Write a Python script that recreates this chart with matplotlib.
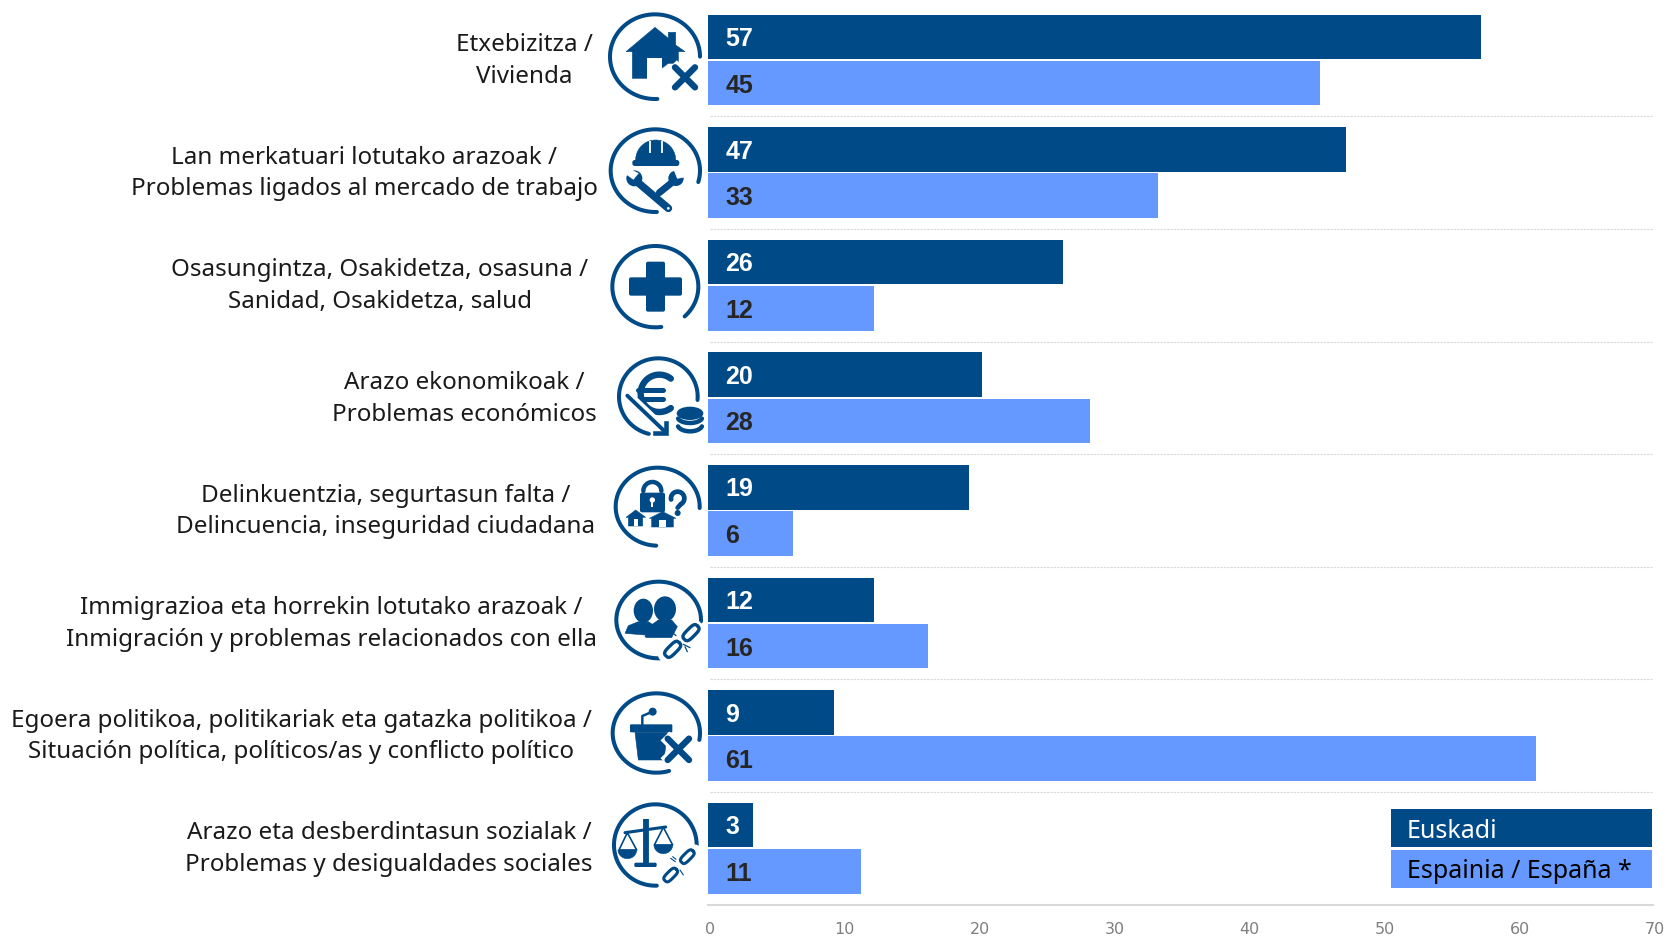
import numpy as np
import matplotlib
matplotlib.use("Agg")
import matplotlib.pyplot as plt
from matplotlib.patches import Polygon, Circle, Ellipse, Rectangle, FancyBboxPatch
from matplotlib.transforms import ScaledTranslation

categories = [
    "Etxebizitza /\nVivienda",
    "Lan merkatuari lotutako arazoak /\nProblemas ligados al mercado de trabajo",
    "Osasungintza, Osakidetza, osasuna /\nSanidad, Osakidetza, salud",
    "Arazo ekonomikoak /\nProblemas económicos",
    "Delinkuentzia, segurtasun falta /\nDelincuencia, inseguridad ciudadana",
    "Immigrazioa eta horrekin lotutako arazoak /\nInmigración y problemas relacionados con ella",
    "Egoera politikoa, politikariak eta gatazka politikoa /\nSituación política, políticos/as y conflicto político",
    "Arazo eta desberdintasun sozialak /\nProblemas y desigualdades sociales",
]
euskadi = [57.25, 47.25, 26.3, 20.3, 19.3, 12.3, 9.3, 3.3]
espania = [45.3, 33.3, 12.3, 28.3, 6.3, 16.3, 61.3, 11.3]
series_names = ["Euskadi", "Espainia / España *"]
x_ticks = [0, 10, 20, 30, 40, 50, 60, 70]

DARK, LIGHT = "#004B87", "#6699FF"
W, H = 1668, 936
label_cx = [524, 364, 380, 464, 386, 331.5, 301.5, 389]

fig = plt.figure(figsize=(W / 100, H / 100), dpi=100, facecolor="white")
ax = fig.add_axes([708 / W, 1 - 904.5 / H, 945 / W, 900.8 / H])
y = np.arange(len(categories)) + 0.5
ax.barh(y - 0.205, euskadi, 0.395, color=DARK)
ax.barh(y + 0.205, espania, 0.395, color=LIGHT)
ax.set_xlim(0, 70)
ax.set_ylim(len(categories), 0)
ax.set_xticks(x_ticks)
ax.set_yticks([])
ax.tick_params(axis="x", length=0, pad=12.5, labelsize=11.5, labelcolor="#7F7F7F")
shift = ScaledTranslation(1.3 / 72, 0, fig.dpi_scale_trans)
for lab in ax.get_xticklabels():
    lab.set_transform(lab.get_transform() + shift)
for s in ["top", "left", "right"]:
    ax.spines[s].set_visible(False)
ax.spines["bottom"].set_color("#D9D9D9")
ax.spines["bottom"].set_linewidth(1.5)
for b in range(1, len(categories)):
    ax.plot([0.15, 70], [b, b], color="#D9D9D9", lw=0.8, ls=(0, (2, 1)), zorder=0)
for i in range(len(categories)):
    ax.text(1.3, y[i] - 0.208, f"{round(euskadi[i])}", color="white", fontsize=18, weight="bold",
            family="Liberation Sans", va="center_baseline", ha="left")
    ax.text(1.3, y[i] + 0.205, f"{round(espania[i])}", color="#262626", fontsize=18, weight="bold",
            family="Liberation Sans", va="center_baseline", ha="left")

# overlay in pixel coordinates: category text, icons and the legend
ov = fig.add_axes([0, 0, 1, 1], facecolor="none")
ov.set_xlim(0, W)
ov.set_ylim(H, 0)
ov.axis("off")

for i, t in enumerate(categories):
    ov.text(label_cx[i], 61 + 112.6 * i, t, ha="center", va="center", ma="center",
            fontsize=17.45, family="Noto Sans", color="#1A1A1A", linespacing=1.42)

# legend
ly = [(809, 847), (850, 888)]
for (a, b), c, tc, name in zip(ly, [DARK, LIGHT], ["white", "black"], series_names):
    ov.add_patch(Rectangle((1391, a), 261, b - a, color=c, lw=0))
    ov.text(1407, (a + b) / 2 + 3, name, color=tc, fontsize=18, family="Noto Sans", va="center", ha="left")


class Z:
    """Drawing helper for decorative icons; coordinates are zoom-crop pixels."""
    def __init__(self, ox, oy):
        self.ox, self.oy = ox, oy
    def p(self, x, y):
        return (self.ox + x / 3, self.oy + y / 3)
    def line(self, pts, lw=2.2, c=DARK, cap="round", z=5):
        q = np.array([self.p(*a) for a in pts])
        ov.plot(q[:, 0], q[:, 1], color=c, lw=lw, solid_capstyle=cap, solid_joinstyle="round", zorder=z)
    def arc(self, cx, cy, r, a0, a1, lw=2.9, c=DARK, z=5, ry=None):
        ry = r if ry is None else ry
        t = np.radians(np.linspace(a0, a1, 90))
        self.line(list(zip(cx + r * np.cos(t), cy - ry * np.sin(t))), lw=lw, c=c, z=z)
    def poly(self, pts, c=DARK, z=5):
        ov.add_patch(Polygon([self.p(*a) for a in pts], closed=True, color=c, lw=0.4, zorder=z))
    def rect(self, x0, y0, x1, y1, c=DARK, z=5, r=0):
        px, py = self.p(x0, y0)
        w, h = (x1 - x0) / 3, (y1 - y0) / 3
        if r:
            ov.add_patch(FancyBboxPatch((px + r, py + r), w - 2 * r, h - 2 * r, boxstyle=f"round,pad={r}",
                                        color=c, lw=0, zorder=z))
        else:
            ov.add_patch(Rectangle((px, py), w, h, color=c, lw=0, zorder=z))
    def circ(self, x, y, r, c=DARK, z=5):
        ov.add_patch(Circle(self.p(x, y), r / 3, color=c, lw=0, zorder=z))
    def ell(self, x, y, rx, ry, c=DARK, z=5):
        ov.add_patch(Ellipse(self.p(x, y), 2 * rx / 3, 2 * ry / 3, color=c, lw=0, zorder=z))
    def cross(self, x, y, s, lw=4.6):
        self.line([(x - s - 8, y - s - 8), (x + s + 8, y + s + 8)], lw=lw + 4.5, c="white", cap="butt", z=6)
        self.line([(x - s - 8, y + s + 8), (x + s + 8, y - s - 8)], lw=lw + 4.5, c="white", cap="butt", z=6)
        self.line([(x - s, y - s), (x + s, y + s)], lw=lw, z=7)
        self.line([(x - s, y + s), (x + s, y - s)], lw=lw, z=7)
    def link(self, x, y, a, b, th=-45, lw=2.4, z=7):
        t = np.linspace(0, 2 * np.pi, 60)
        ux = np.sign(np.cos(t)) * np.abs(np.cos(t)) ** 0.6 * a
        uy = np.sign(np.sin(t)) * np.abs(np.sin(t)) ** 0.6 * b
        r = np.radians(th)
        self.line(list(zip(x + ux * np.cos(r) - uy * np.sin(r), y + ux * np.sin(r) + uy * np.cos(r))), lw=lw, z=z)


# 1 house
z = Z(600, 0)
z.arc(165, 170, 135, 0, 273, ry=127)
z.poly([(78, 155), (165, 82), (205, 115), (205, 97), (227, 97), (227, 135), (255, 155)])
z.poly([(97, 150), (235, 150), (235, 190), (205, 190), (185, 205), (185, 235), (97, 235)])
z.rect(140, 175, 185, 240, c="white", z=6)
z.cross(255, 232, 30)

# 2 helmet and tools
z = Z(600, 0)
z.arc(166, 512, 134, -16, 272, ry=124)
t = np.radians(np.linspace(0, 180, 40))
z.poly(list(zip(167 + 60 * np.cos(t), 480 - 60 * np.sin(t))))
z.rect(97, 480, 238, 498, r=2.5)
z.line([(150, 422), (150, 458)], lw=1.3, c="white", cap="butt", z=6)
z.line([(185, 422), (185, 458)], lw=1.3, c="white", cap="butt", z=6)
z.line([(105, 540), (205, 625)], lw=5.5)
z.circ(103, 535, 24)
z.poly([(85, 505), (115, 520), (100, 538), (75, 520)], c="white", z=6)
z.line([(178, 578), (225, 540)], lw=5)
z.circ(228, 535, 23)
z.poly([(222, 510), (252, 510), (252, 532), (232, 535)], c="white", z=6)
z.circ(205, 625, 4, c="white", z=6)

# 3 health
z = Z(600, 230)
z.arc(166, 170, 129, -47, 278, ry=122)
z.rect(138, 95, 195, 245, r=2)
z.rect(87, 142, 246, 197, r=2)

# 4 euro
z = Z(600, 230)
z.arc(175, 500, 118, -5, 256, ry=115)
z.arc(178, 490, 56, 52, 308, lw=4.6)
z.line([(115, 480), (188, 480)], lw=3.6)
z.line([(115, 506), (188, 506)], lw=3.6)
z.line([(85, 500), (195, 605)], lw=8, c="white", z=6)
z.line([(82, 497), (195, 605)], lw=2.8, z=7)
z.poly([(192, 572), (204, 572), (204, 614), (160, 614), (160, 602), (192, 602)], z=7)
z.rect(222, 522, 318, 622, c="white", z=6)
z.ell(270, 550, 40, 20, z=8)
z.arc(270, 561, 37, 195, 345, lw=3.2, z=8, ry=18)
z.arc(270, 584, 37, 195, 345, lw=3.2, z=8, ry=20)

# 5 security
z = Z(600, 455)
z.arc(173, 155, 126, -2, 268, ry=117)
z.arc(157, 108, 27, 0, 180, lw=3.2)
z.rect(120, 113, 195, 172, r=2)
z.circ(157, 135, 8, c="white", z=6)
z.rect(154, 135, 160, 157, c="white", z=6)
z.arc(233, 130, 20, -60, 190, lw=3.4)
z.line([(243, 147), (233, 158)], lw=3.4)
z.circ(233, 174, 9)
z.poly([(78, 187), (107, 165), (137, 187), (128, 187), (128, 213), (85, 213), (85, 187)])
z.rect(102, 192, 113, 213, c="white", z=6)
z.poly([(148, 190), (188, 170), (228, 190), (220, 190), (220, 216), (155, 216), (155, 190)])
z.rect(178, 195, 198, 216, c="white", z=6)

# 6 immigration
z = Z(600, 455)
z.arc(176, 495, 127, -2, 272, ry=115)
z.ell(130, 467, 29, 36)
z.poly([(75, 535), (85, 512), (115, 500), (145, 500), (160, 510), (135, 540)])
z.ell(195, 462, 33, 38)
z.poly([(135, 545), (140, 520), (175, 495), (215, 495), (232, 515), (215, 548), (140, 548)])
z.line([(285, 515), (195, 600)], lw=10, c="white", z=6)
z.link(273, 533, 28, 13)
z.link(218, 583, 28, 13)
for a in [((212, 528), (228, 542)), ((250, 568), (270, 578)), ((255, 575), (262, 590))]:
    z.line(list(a), lw=0.9, z=7)

# 7 politics
z = Z(600, 680)
z.arc(169, 159, 131, -10, 287, ry=119)
z.rect(90, 133, 217, 157, r=1)
z.poly([(105, 157), (202, 157), (192, 240), (115, 240)])
z.line([(127, 133), (127, 108), (155, 96)], lw=1.8)
z.circ(158, 95, 12)
z.cross(235, 208, 32)

# 8 inequality
z = Z(600, 680)
z.arc(166, 495, 124, -5, 272, ry=122)
z.line([(137, 418), (137, 552)], lw=4.2, cap="butt")
z.rect(103, 548, 170, 561, r=1.5)
z.line([(75, 458), (197, 441)], lw=2.2)
z.line([(82, 458), (57, 510), (110, 510), (82, 458)], lw=1.2)
z.line([(190, 442), (163, 495), (218, 495), (190, 442)], lw=1.2)
for cx, cy in [(82, 510), (190, 495)]:
    tt = np.radians(np.linspace(180, 360, 30))
    z.poly(list(zip(cx + 28 * np.cos(tt), cy - 26 * np.sin(tt))))
z.line([(285, 510), (192, 605)], lw=8, c="white", z=6)
z.link(262, 530, 24, 11, lw=2.2)
z.link(212, 585, 24, 11, lw=2.2)
for a in [((212, 535), (226, 545)), ((218, 530), (228, 538)), ((240, 570), (250, 585))]:
    z.line(list(a), lw=0.8, z=7)

fig.savefig("out.png", dpi=100, facecolor="white")
